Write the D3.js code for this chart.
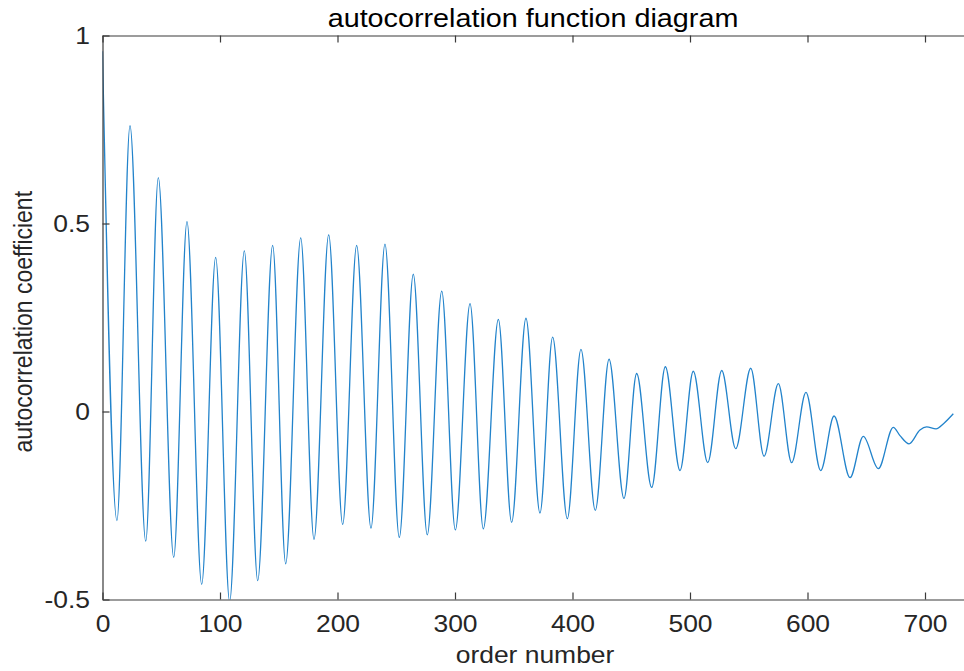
<!DOCTYPE html>
<html>
<head>
<meta charset="utf-8">
<script src="https://cdn.jsdelivr.net/npm/d3@7"></script>
<style>
  html, body { margin: 0; padding: 0; background: #fff; }
  svg { display: block; font-family: "Liberation Sans", Arial, sans-serif; }
</style>
</head>
<body>
<svg id="chart" width="964" height="671"></svg>
<script>
// ---- data (extrema and turning points) ----
const lags = [0, 12.3, 23.4, 36.8, 47.5, 60.6, 71.9, 84.4, 96.3, 108.2, 120.7, 132.1, 144.8, 155.9, 168.7,
  180.0, 192.5, 204.4, 216.3, 228.5, 240.4, 252.6, 264.5, 276.4, 288.7, 300.3, 312.8, 324.1, 336.9, 348.2,
  360.4, 372.3, 383.1, 395.6, 407.2, 419.4, 431.1, 443.8, 454.6, 467.4, 479.0, 491.5, 502.8, 515.1, 527.0,
  538.9, 551.7, 563.0, 575.2, 586.5, 598.7, 611.2, 622.6, 636.2, 647.5, 660.3, 673.0, 678.7, 686.4, 695.7,
  701.4, 709.4, 716.2, 724.1];
const coefficients = [0.958, -0.290, 0.760, -0.345, 0.622, -0.388, 0.505, -0.460, 0.410, -0.505, 0.427, -0.450,
  0.442, -0.405, 0.462, -0.340, 0.470, -0.300, 0.442, -0.310, 0.445, -0.335, 0.365, -0.328, 0.320, -0.315,
  0.287, -0.312, 0.245, -0.295, 0.248, -0.270, 0.198, -0.285, 0.165, -0.263, 0.139, -0.231, 0.101, -0.202,
  0.119, -0.157, 0.107, -0.136, 0.109, -0.099, 0.115, -0.119, 0.074, -0.136, 0.051, -0.157, -0.012, -0.176,
  -0.066, -0.152, -0.042, -0.064, -0.086, -0.049, -0.041, -0.046, -0.031, -0.006];
const xTicks = [0, 100, 200, 300, 400, 500, 600, 700];
const yTicks = [-0.5, 0, 0.5, 1];
const titleText = "autocorrelation function diagram";
const xLabelText = "order number";
const yLabelText = "autocorrelation coefficient";

// ---- layout ----
const mLeft = 102.5, mTop = 35.5, mBottom = 599.5;
const xUnit = 1.175;                   // px per lag unit
const mRight = mLeft + 800 * xUnit;    // frame right edge lies beyond the picture
const stretch = 1.15;
const textColor = "#262626";

const svg = d3.select("#chart");
svg.append("rect").attr("width", 964).attr("height", 671).attr("fill", "#fff");

const x = d3.scaleLinear().domain([0, 800]).range([mLeft, mRight]);
const y = d3.scaleLinear().domain([-0.5, 1]).range([mBottom, mTop]);

// clip
svg.append("clipPath").attr("id", "plotclip")
  .append("rect").attr("x", mLeft).attr("y", mTop).attr("width", mRight - mLeft).attr("height", mBottom - mTop);

// line
const data = lags.map((l, i) => ({ lag: l, v: coefficients[i] }));
const line = d3.line().x(d => x(d.lag)).y(d => y(d.v)).curve(d3.curveMonotoneX);
svg.append("path")
  .datum(data)
  .attr("clip-path", "url(#plotclip)")
  .attr("fill", "none")
  .attr("stroke", "#2283cb")
  .attr("stroke-width", 1.3)
  .attr("stroke-linejoin", "round")
  .attr("d", line);

// axes
function styleAxis(g) {
  g.selectAll("path.domain").attr("stroke", "#3a3a3a").attr("stroke-width", 1.2);
  g.selectAll(".tick line").attr("stroke", "#3a3a3a").attr("stroke-width", 1.2);
  g.selectAll("text").attr("fill", textColor).style("font-size", "23px")
    .style("font-family", '"Liberation Sans", Arial, sans-serif');
}

const gx = svg.append("g").attr("transform", `translate(0,${mBottom})`)
  .call(d3.axisBottom(x).tickValues(xTicks).tickSizeInner(-7).tickSizeOuter(0).tickFormat(d => String(d)));
styleAxis(gx);
gx.selectAll("text").attr("y", 32.2).attr("dy", null).attr("transform", `scale(${stretch},1)`);

const gt = svg.append("g").attr("transform", `translate(0,${mTop})`)
  .call(d3.axisTop(x).tickValues(xTicks).tickSizeInner(-7).tickSizeOuter(0).tickFormat(""));
styleAxis(gt);

const gy = svg.append("g").attr("transform", `translate(${mLeft},0)`)
  .call(d3.axisLeft(y).tickValues(yTicks).tickSizeInner(-7).tickSizeOuter(0).tickFormat(d => String(d)));
styleAxis(gy);
gy.selectAll("text").attr("x", -12.5 / stretch).attr("dy", "0.35em").attr("transform", `scale(${stretch},1)`);

// title and labels
svg.append("text")
  .attr("transform", `translate(533,26.5) scale(${stretch},1)`)
  .attr("text-anchor", "middle").attr("fill", "#000")
  .style("font-size", "25px").text(titleText);

svg.append("text")
  .attr("transform", `translate(535,663) scale(${stretch},1)`)
  .attr("text-anchor", "middle").attr("fill", textColor)
  .style("font-size", "23px").text(xLabelText);

svg.append("text")
  .attr("transform", `translate(31.5,321.7) scale(${stretch},1) rotate(-90)`)
  .attr("text-anchor", "middle").attr("fill", textColor)
  .style("font-size", "23px").text(yLabelText);
</script>
</body>
</html>
